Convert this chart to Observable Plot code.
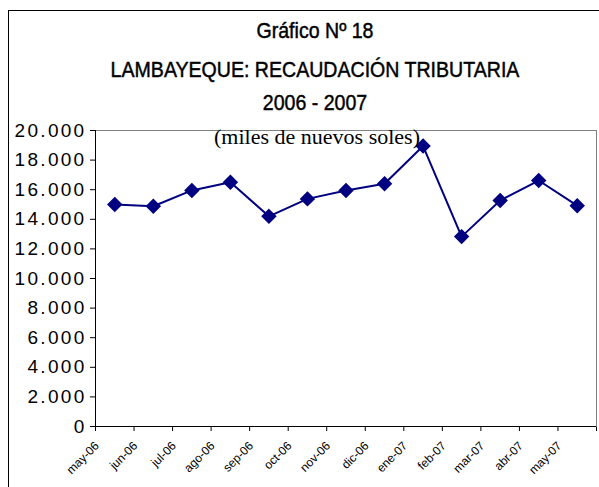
<!DOCTYPE html>
<html><head><meta charset="utf-8">
<script src="https://cdn.jsdelivr.net/npm/d3@7"></script>
<script src="https://cdn.jsdelivr.net/npm/@observablehq/plot@0.6"></script>
<style>
body{margin:0;background:#fff;}
#wrap{position:relative;width:599px;height:487px;overflow:hidden;background:#fff;}
#frame{position:absolute;left:8px;top:10px;width:600px;height:500px;border-left:1px solid #000;border-top:1px solid #000;box-sizing:border-box;}
#chart{position:absolute;left:0;top:0;}
.t{position:absolute;left:0;width:630px;text-align:center;font-family:"Liberation Sans",Arial,sans-serif;font-size:21.5px;line-height:24px;color:#000;white-space:nowrap;transform:scaleX(0.91);-webkit-text-stroke:0.45px #000;}
#sub{font-family:"Liberation Serif","Times New Roman",serif;font-size:22px;transform:none;-webkit-text-stroke:0;width:634px;}
svg g[aria-label^="y-axis"] text{letter-spacing:2.3px;}
</style></head>
<body>
<div id="wrap">
  <div id="frame"></div>
  <div id="chart"></div>
  <div class="t" id="t1" style="top:19px">Gráfico Nº 18</div>
  <div class="t" id="t2" style="top:58px">LAMBAYEQUE: RECAUDACIÓN TRIBUTARIA</div>
  <div class="t" id="t3" style="top:91px">2006 - 2007</div>
  <div class="t" id="sub" style="top:125px">(miles de nuevos soles)</div>
</div>
<script>
const meses = ["may-06","jun-06","jul-06","ago-06","sep-06","oct-06","nov-06","dic-06","ene-07","feb-07","mar-07","abr-07","may-07"];
const recaudacion = [15000, 14880, 15950, 16500, 14200, 15380, 15950, 16400, 18950, 12830, 15270, 16620, 14920];
const yTicks = [0, 2000, 4000, 6000, 8000, 10000, 12000, 14000, 16000, 18000, 20000];

const data = meses.map((m, i) => ({mes: m, pos: i + 0.5, valor: recaudacion[i]}));
const fmt = d => d3.format(",")(d).replace(/,/g, ".");

const chart = Plot.plot({
  width: 599, height: 487,
  marginTop: 130, marginBottom: 61, marginLeft: 95, marginRight: 3,
  style: {fontFamily: '"Liberation Sans", Arial, sans-serif', fontSize: "19px", color: "#000", background: "transparent", overflow: "visible"},
  x: {domain: [0, meses.length], ticks: d3.range(meses.length + 1), tickFormat: () => "", tickSize: 5, label: null},
  y: {domain: [0, 20000], ticks: yTicks, tickFormat: fmt, tickSize: 5, tickPadding: 4, label: null},
  marks: [
    Plot.frame({stroke: "#808080"}),
    Plot.ruleX([0], {stroke: "#000"}),
    Plot.ruleY([0], {stroke: "#000"}),
    Plot.line(data, {x: "pos", y: "valor", stroke: "#000080", strokeWidth: 2}),
    Plot.dot(data, {x: "pos", y: "valor", symbol: "diamond2", r: 6, fill: "#000080", stroke: "#000080"}),
    Plot.text(data, {x: "pos", frameAnchor: "bottom", text: "mes", rotate: -45, textAnchor: "end", dx: -15, dy: 20, fontSize: 12})
  ]
});
document.getElementById("chart").appendChild(chart);
</script>
</body></html>
